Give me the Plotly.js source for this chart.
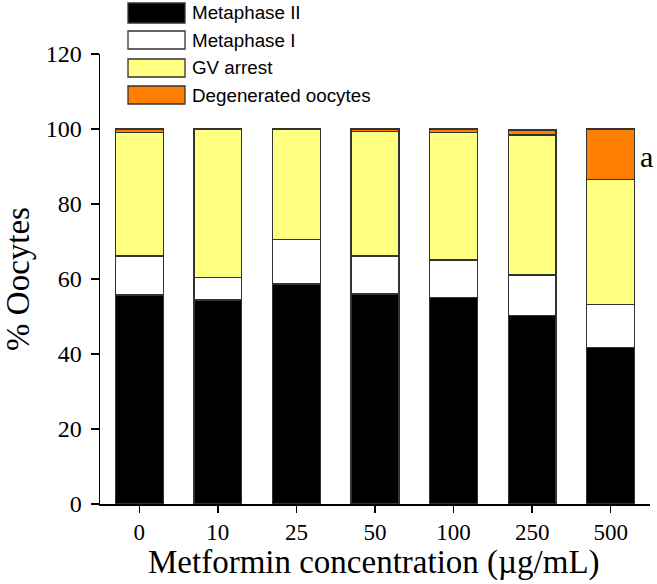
<!DOCTYPE html>
<html>
<head>
<meta charset="utf-8">
<script src="https://cdn.plot.ly/plotly-3.0.1.min.js"></script>
<style>html,body{margin:0;padding:0;background:#fff;}#chart{width:657px;height:584px;}</style>
</head>
<body>
<div id="chart"></div>
<script>
var categories = ['0', '10', '25', '50', '100', '250', '500'];
var seriesNames = ['Metaphase II', 'Metaphase I', 'GV arrest', 'Degenerated oocytes'];
var metaphaseII = [55.7, 54.4, 58.7, 56.0, 55.0, 50.2, 41.8];
var metaphaseI = [10.4, 6.0, 11.9, 10.1, 10.1, 10.9, 11.4];
var gvArrest = [32.9, 39.4, 29.3, 33.3, 33.9, 37.3, 33.4];
var degenerated = [1.0, 0.2, 0.1, 0.6, 1.0, 1.3, 13.4];
var seriesColors = ['#000000', '#ffffff', '#ffff80', '#ff8000'];
var yTicks = [0, 20, 40, 60, 80, 100, 120];
var markLabel = 'a';
var xTitle = 'Metformin concentration (\u00b5g/mL)';
var yTitle = '% Oocytes';

var allSeries = [metaphaseII, metaphaseI, gvArrest, degenerated];
var traces = allSeries.map(function (vals, i) {
  return {
    type: 'bar', name: seriesNames[i], x: categories, y: vals,
    marker: {color: seriesColors[i], line: {color: '#333333', width: 1.3}},
    showlegend: false, hoverinfo: 'skip'
  };
});

var serif = 'Liberation Serif, Times New Roman, serif';
// custom legend (wide swatches) placed in pixel terms of the plot area
var L = 100, T = 54, W = 550, H = 450;
function px(x) { return (x - L) / W; }
function py(y) { return (T + H - y) / H; }
var rows = [[3, 23], [31, 49], [59, 77], [86, 104]];
var shapes = [], annotations = [];
rows.forEach(function (r, i) {
  shapes.push({type: 'rect', xref: 'paper', yref: 'paper', x0: px(128), x1: px(185), y0: py(r[1]), y1: py(r[0]),
    fillcolor: seriesColors[i], line: {color: '#333333', width: 1.3}});
  annotations.push({xref: 'paper', yref: 'paper', x: px(190), y: py((r[0] + r[1]) / 2), xanchor: 'left', yanchor: 'middle',
    text: seriesNames[i], showarrow: false, font: {family: 'Liberation Sans, Arial, sans-serif', size: 18.8, color: '#000'}});
});
annotations.push({xref: 'paper', yref: 'paper', x: px(646), y: py(156), xanchor: 'center', yanchor: 'middle',
  text: markLabel, showarrow: false, font: {family: serif, size: 30, color: '#000'}});
annotations.push({xref: 'paper', yref: 'paper', x: px(374), y: py(562), xanchor: 'center', yanchor: 'middle',
  text: xTitle, showarrow: false, font: {family: serif, size: 33, color: '#000'}});

var layout = {
  width: 657, height: 584,
  margin: {l: L, r: 657 - L - W, t: T, b: 584 - T - H, pad: 0},
  barmode: 'stack', bargap: 0.39,
  paper_bgcolor: '#fff', plot_bgcolor: '#fff',
  font: {family: serif, color: '#000'},
  xaxis: {
    type: 'category', range: [-0.5, 6.5], showline: true, linecolor: '#000', linewidth: 1.5,
    ticks: 'outside', ticklen: 7, tickwidth: 1.5, tickcolor: '#000', showgrid: false, zeroline: false,
    tickfont: {family: serif, size: 23, color: '#000'}
  },
  yaxis: {
    range: [0, 120], tickvals: yTicks, showline: true, linecolor: '#000', linewidth: 1.5,
    ticks: 'outside', ticklen: 8, tickwidth: 1.5, tickcolor: '#000', showgrid: false, zeroline: false,
    tickfont: {family: serif, size: 24, color: '#000'}, ticklabelstandoff: 4,
    title: {text: yTitle, font: {family: serif, size: 33, color: '#000'}, standoff: 10}
  },
  shapes: shapes, annotations: annotations
};
Plotly.newPlot('chart', traces, layout, {displayModeBar: false, staticPlot: true});
</script>
</body>
</html>
